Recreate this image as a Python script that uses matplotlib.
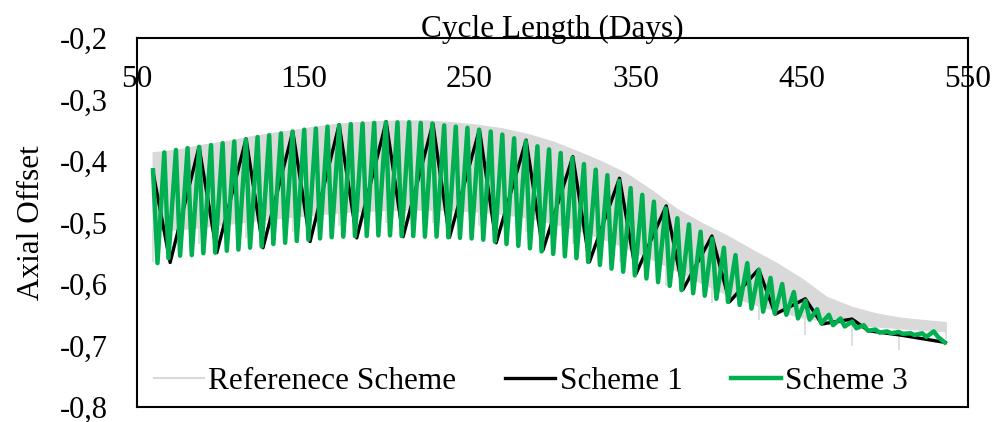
#!/usr/bin/env python3

# Axial offset vs cycle length for the reference scheme and schemes 1 and 3.

import numpy as np
import matplotlib
matplotlib.use('Agg')
import matplotlib.pyplot as plt
from matplotlib.lines import Line2D
from matplotlib.ticker import FuncFormatter, MultipleLocator

plt.rcParams['font.family'] = ['Liberation Serif', 'DejaVu Serif']

# reference scheme: daily swings, kept as the band they fill (upper / lower)
ref_days = [59, 75, 90, 105, 120, 135, 150, 165, 180, 195, 210, 225, 240,
            255, 270, 285, 300, 315, 330, 345, 360, 375, 390, 405, 420, 435,
            450, 465, 480, 495, 510, 525, 537]
ref_hi = [-0.385, -0.380, -0.372, -0.366, -0.358, -0.352, -0.346, -0.340,
          -0.336, -0.334, -0.333, -0.333, -0.336, -0.340, -0.346, -0.355,
          -0.367, -0.383, -0.400, -0.420, -0.447, -0.477, -0.500, -0.520,
          -0.543, -0.565, -0.590, -0.620, -0.636, -0.647, -0.654, -0.658,
          -0.661]
ref_lo = [-0.512, -0.512, -0.508, -0.503, -0.498, -0.494, -0.490, -0.486,
          -0.483, -0.481, -0.480, -0.480, -0.481, -0.483, -0.487, -0.493,
          -0.502, -0.513, -0.527, -0.543, -0.561, -0.580, -0.600, -0.618,
          -0.633, -0.645, -0.655, -0.662, -0.667, -0.670, -0.673, -0.676,
          -0.678]
# deeper dips of the reference scheme at each 28-day step
ref_spike_days = [59.5, 87.3, 115.6, 143.7, 171.6, 199.9, 228.0, 256.0, 284.1,
                  312.2, 340.3, 368.4, 396.0, 424.0, 452.1, 480.2, 508.3, 536.5]
ref_spike_lo = [-0.565, -0.535, -0.525, -0.515, -0.505, -0.500, -0.500, -0.505,
                -0.515, -0.535, -0.565, -0.604, -0.631, -0.659, -0.683, -0.700,
                -0.708, -0.690]

# scheme 1
s1_days = [59.6, 69.9, 87.3, 98.0, 115.6, 125.8, 143.7, 154.1, 171.6, 182.2,
           199.9, 210.1, 228.0, 238.0, 256.0, 266.1, 284.1, 294.2, 312.2, 322.2,
           340.3, 350.3, 368.4, 378.5, 395.9, 406.5, 424.0, 434.0, 452.1, 462.1,
           480.2, 490.2, 509.3, 536.3]
s1_ao = [-0.418, -0.565, -0.377, -0.549, -0.364, -0.541, -0.352, -0.531,
         -0.341, -0.525, -0.336, -0.523, -0.339, -0.524, -0.349, -0.533,
         -0.366, -0.545, -0.393, -0.564, -0.428, -0.583, -0.473, -0.609,
         -0.522, -0.629, -0.576, -0.649, -0.624, -0.665, -0.657, -0.676,
         -0.683, -0.695]

# scheme 3 (peak, trough pairs)
s3_days = [59.6, 62.3,
           66.4, 68.9, 73.4, 75.9, 80.4, 82.9, 87.4, 89.9, 94.5, 97.0,
           101.5, 104.0, 108.5, 111.0, 115.5, 118.0, 122.5, 125.0, 129.5, 132.0,
           136.6, 139.1, 143.6, 146.1, 150.6, 153.1, 157.6, 160.1, 164.6, 167.1,
           171.6, 174.1, 178.6, 181.1, 185.7, 188.2, 192.7, 195.2, 199.7, 202.2,
           206.7, 209.2, 213.7, 216.2, 220.7, 223.2, 227.7, 230.2, 234.8, 237.3,
           241.8, 244.3, 248.8, 251.3, 255.8, 258.3, 262.8, 265.3, 269.8, 272.3,
           276.9, 279.4, 283.9, 286.4, 290.9, 293.4, 297.9, 300.4, 304.9, 307.4,
           311.9, 314.4, 318.9, 321.4, 326.0, 328.5, 333.0, 335.5, 340.0, 342.5,
           347.0, 349.5, 354.0, 356.5, 361.0, 363.5, 368.0, 370.5, 375.1, 377.6,
           382.1, 384.6, 389.1, 391.6, 396.1, 398.6, 403.1, 405.6, 410.1, 412.6,
           417.2, 419.7, 424.2, 426.7, 431.2, 433.7, 438.2, 440.7, 445.2, 447.7,
           452.2, 454.7, 459.2, 461.7, 466.3, 468.8, 473.3, 475.8, 480.3, 482.8,
           487.3, 489.8, 494.3, 496.8, 501.3, 503.8, 508.3, 510.8, 515.4, 517.9,
           522.4, 524.9, 529.4, 531.9,
           536.0]
s3_ao = [-0.415, -0.566,
         -0.386, -0.558, -0.382, -0.554, -0.379, -0.553, -0.377, -0.550,
         -0.374, -0.549, -0.371, -0.546, -0.368, -0.544, -0.365, -0.541,
         -0.361, -0.539, -0.358, -0.535, -0.355, -0.533, -0.352, -0.530,
         -0.349, -0.528, -0.347, -0.526, -0.344, -0.524, -0.342, -0.523,
         -0.340, -0.522, -0.339, -0.522, -0.338, -0.521, -0.337, -0.521,
         -0.337, -0.522, -0.337, -0.522, -0.338, -0.523, -0.339, -0.523,
         -0.342, -0.524, -0.344, -0.525, -0.346, -0.526, -0.349, -0.528,
         -0.352, -0.531, -0.357, -0.535, -0.363, -0.538, -0.368, -0.542,
         -0.376, -0.547, -0.381, -0.551, -0.387, -0.555, -0.395, -0.558,
         -0.405, -0.564, -0.414, -0.569, -0.423, -0.575, -0.432, -0.580,
         -0.444, -0.586, -0.455, -0.591, -0.466, -0.597, -0.477, -0.603,
         -0.493, -0.610, -0.503, -0.615, -0.515, -0.619, -0.526, -0.624,
         -0.541, -0.629, -0.553, -0.634, -0.566, -0.640, -0.577, -0.645,
         -0.590, -0.648, -0.600, -0.650, -0.613, -0.656, -0.627, -0.658,
         -0.641, -0.664, -0.650, -0.667, -0.656, -0.669, -0.661, -0.672,
         -0.667, -0.676, -0.674, -0.679, -0.677, -0.680, -0.678, -0.681,
         -0.680, -0.683, -0.680, -0.686, -0.677, -0.686,
         -0.695]

x_ticks = [50, 150, 250, 350, 450, 550]
labels = ['Referenece Scheme', 'Scheme 1', 'Scheme 3']
ref_color = '#d9d9d9'
s3_color = '#00b050'
fs = 22.5

fig = plt.figure(figsize=(9.96, 4.22), dpi=100)
ax = fig.add_axes([0.1376, 0.0355, 0.8343, 0.8744])

ax.fill_between(ref_days, ref_lo, ref_hi, color=ref_color, lw=0, zorder=1)
ax.vlines(ref_spike_days, ref_spike_lo, np.interp(ref_spike_days, ref_days, ref_lo),
          color=ref_color, lw=1.2, zorder=1)
ax.plot(s1_days, s1_ao, color='black', lw=2.4, zorder=2)
ax.plot(s3_days, s3_ao, color=s3_color, lw=3.2, zorder=3)

ax.set_xlim(50, 550)
ax.set_ylim(-0.8, -0.2)
ax.set_xticks(x_ticks)
ax.yaxis.set_major_locator(MultipleLocator(0.1))
ax.yaxis.set_major_formatter(FuncFormatter(lambda v, p: f'{v:.1f}'.replace('.', ',')))
ax.tick_params(axis='x', bottom=False, labelbottom=False, top=True, labeltop=True,
               length=0, pad=-40, labelsize=fs)
ax.tick_params(axis='y', length=0, pad=21, labelsize=22)

ax.xaxis.set_label_position('top')
ax.set_xlabel('Cycle Length (Days)', fontsize=fs, labelpad=1)
ax.set_ylabel('Axial Offset', fontsize=fs, labelpad=10)

for s in ax.spines.values():
    s.set_linewidth(1.5)
    s.set_color('black')

handles = [Line2D([], [], color=ref_color, lw=1.5),
           Line2D([], [], color='black', lw=2.4),
           Line2D([], [], color=s3_color, lw=3.2)]
ax.legend(handles, labels, loc='center', bbox_to_anchor=(0.474, 0.0705), ncol=3,
          frameon=False, fontsize=fs, handlelength=1.6, handletextpad=0.15,
          columnspacing=1.55, borderpad=0, borderaxespad=0)

fig.savefig('out.png', dpi=100)
